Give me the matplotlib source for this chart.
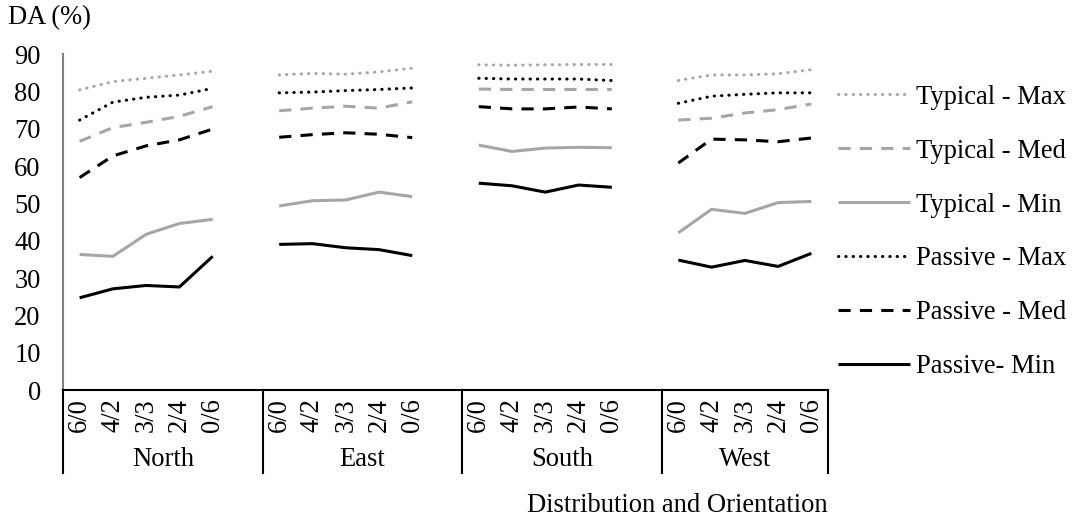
import matplotlib
matplotlib.use("Agg")
import matplotlib.pyplot as plt
from matplotlib.transforms import blended_transform_factory

# ---- data -------------------------------------------------------------
orientations = ["North", "East", "South", "West"]
distributions = ["6/0", "4/2", "3/3", "2/4", "0/6"]

typical_max = [[80.4, 82.6, 83.5, 84.4, 85.4],
               [84.4, 84.8, 84.6, 85.2, 86.2],
               [87.1, 87.0, 87.1, 87.2, 87.2],
               [82.9, 84.4, 84.4, 84.7, 85.8]]
typical_med = [[66.6, 70.3, 71.7, 73.3, 75.9],
               [74.8, 75.5, 76.0, 75.5, 77.2],
               [80.6, 80.5, 80.5, 80.5, 80.5],
               [72.3, 72.8, 74.2, 75.1, 76.6]]
typical_min = [[36.3, 35.8, 41.7, 44.6, 45.7],
               [49.3, 50.7, 50.9, 53.0, 51.8],
               [65.6, 63.9, 64.8, 65.0, 64.9],
               [42.1, 48.4, 47.3, 50.2, 50.5]]
passive_max = [[72.3, 77.1, 78.4, 79.0, 80.8],
               [79.6, 79.8, 80.2, 80.5, 80.9],
               [83.5, 83.3, 83.3, 83.3, 82.9],
               [76.8, 78.7, 79.2, 79.6, 79.6]]
passive_med = [[56.9, 62.7, 65.4, 67.0, 69.9],
               [67.7, 68.4, 68.9, 68.5, 67.6],
               [75.9, 75.3, 75.3, 75.8, 75.3],
               [60.8, 67.2, 67.0, 66.5, 67.5]]
passive_min = [[24.7, 27.1, 28.0, 27.6, 35.8],
               [39.0, 39.2, 38.1, 37.6, 36.0],
               [55.4, 54.7, 53.0, 54.9, 54.3],
               [34.8, 32.9, 34.7, 33.1, 36.6]]

series_labels = ["Typical - Max", "Typical - Med", "Typical - Min",
                 "Passive - Max", "Passive - Med", "Passive- Min"]
y_ticks = [0, 10, 20, 30, 40, 50, 60, 70, 80, 90]

# ---- style ------------------------------------------------------------
plt.rcParams["font.family"] = ["Liberation Serif", "DejaVu Serif"]
FS = 19.1
GRAY = "#a6a6a6"
LW = 2.2
DOT = dict(linestyle=(0, (0.1, 2.3)), dash_capstyle="round")
DASH = dict(linestyle=(0, (4, 3)), dash_capstyle="butt")
SOLID = dict(linestyle="-", solid_capstyle="butt")

styles = [dict(color=GRAY, **DOT), dict(color=GRAY, **DASH), dict(color=GRAY, **SOLID),
          dict(color="black", **DOT), dict(color="black", **DASH), dict(color="black", **SOLID)]
all_series = [typical_max, typical_med, typical_min, passive_max, passive_med, passive_min]

W, H = 1078, 522
fig = plt.figure(figsize=(W / 100, H / 100), dpi=100)
ax = fig.add_axes([63 / W, 1 - 390 / H, (828 - 63) / W, (390 - 54) / H])

# each orientation occupies 6 slots (5 layouts + a spacer), last one has no spacer
group_step = len(distributions) + 1
xpos = []
for g in range(len(orientations)):
    xpos.append([g * group_step + i for i in range(len(distributions))])

for series, label, st in zip(all_series, series_labels, styles):
    for g, vals in enumerate(series):
        ax.plot(xpos[g], vals, lw=LW, label=label if g == 0 else None, **st)

n_slots = group_step * len(orientations) - 1
ax.set_xlim(-0.5, n_slots - 0.5)
ax.set_ylim(0, 90)
ax.set_yticks(y_ticks)
ax.tick_params(axis="y", length=0, pad=16, labelsize=FS)

flat_x = [x for grp in xpos for x in grp]
ax.set_xticks(flat_x)
ax.set_xticklabels(distributions * len(orientations), rotation=90, fontsize=FS)
ax.tick_params(axis="x", length=0, pad=6)

for side in ("top", "right"):
    ax.spines[side].set_visible(False)
ax.spines["left"].set_color("#7f7f7f")
ax.spines["left"].set_linewidth(1.5)
ax.spines["bottom"].set_color("black")
ax.spines["bottom"].set_linewidth(1.5)

# multi-level category axis: dividers and orientation names
trans = blended_transform_factory(ax.transData, ax.transAxes)
axis_h = 390 - 54
div_bottom = -(473 - 390) / axis_h
bounds = [-0.5] + [g * group_step + len(distributions) + 0.5 for g in range(len(orientations) - 1)] + [n_slots - 0.5]
for b in bounds:
    ax.plot([b, b], [0, div_bottom], transform=trans, color="black", lw=1.5, clip_on=False)
for g, name in enumerate(orientations):
    cx = (bounds[g] + bounds[g + 1]) / 2
    ax.text(cx, -(459 - 390) / axis_h, name, transform=trans, ha="center", va="center", fontsize=FS)

ax.text(1.0, -(505 - 390) / axis_h, "Distribution and Orientation", transform=ax.transAxes,
        ha="right", va="center", fontsize=FS)
fig.text(8 / W, 1 - 18 / H, "DA (%)", ha="left", va="center", fontsize=FS)

ax.legend(loc="center left", bbox_to_anchor=(838 / W, 1 - 232 / H), bbox_transform=fig.transFigure,
          frameon=False, fontsize=FS, handlelength=2.7, handletextpad=0.25, labelspacing=1.09,
          borderpad=0, borderaxespad=0)

fig.savefig("out.png", dpi=100)
